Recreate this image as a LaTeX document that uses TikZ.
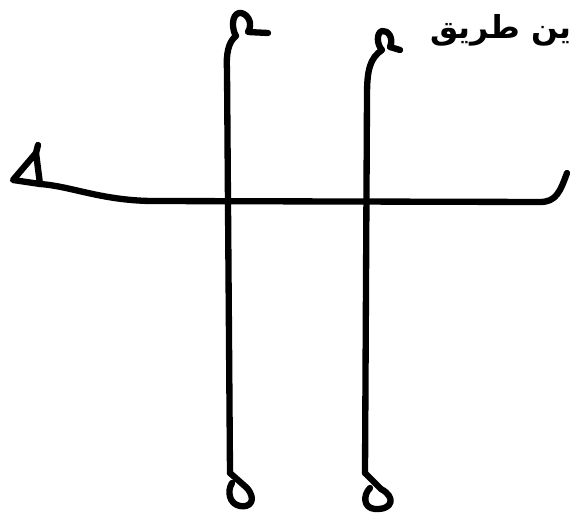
\documentclass[tikz,border=0pt]{standalone}
\usepackage{fontspec}
\newfontfamily\arabicfont[Script=Arabic]{DejaVu Sans}
\TeXXeTstate=1

\begin{document}
\begin{tikzpicture}[x=0.02cm, y=-0.02cm, line width=3.6pt, line cap=round, line join=round]

  \useasboundingbox (0,0) rectangle (571,516);

  % Heading (top right)
  \node[font=\arabicfont\bfseries\fontsize{18}{21}\selectfont] (heading) at (501,30) {\beginR ين طريق\endR};

  % Horizontal line, beh stroke at right
  \draw (567,173) .. controls (560,192) and (556,202) .. (540,202) -- (150,201) .. controls (100,200) and (70,186) .. (40,184);

  % Heh loop at left end
  \draw (40,184) -- (13,180) -- (36,153) -- cycle;
  \draw (36,153) -- (38,145);

  % Left vertical line with loops
  \draw (268,33) -- (248,32) .. controls (254,22) and (246,12) .. (239,13) .. controls (231,15) and (232,30) .. (236,36) .. controls (228,42) and (226,55) .. (227,70) -- (230,473);
  \draw (230,473) -- (247,488) .. controls (257,500) and (250,508) .. (240,506) .. controls (229,504) and (227,491) .. (232,483);

  % Right vertical line with loops
  \draw (400,50) -- (390,47) .. controls (394,38) and (388,30) .. (382,31) .. controls (376,33) and (377,45) .. (382,50) .. controls (370,58) and (367,70) .. (367,95) -- (365,473);
  \draw (365,473) -- (381,489) .. controls (396,497) and (393,510) .. (375,509) .. controls (363,508) and (363,495) .. (370,488);

\end{tikzpicture}
\end{document}
